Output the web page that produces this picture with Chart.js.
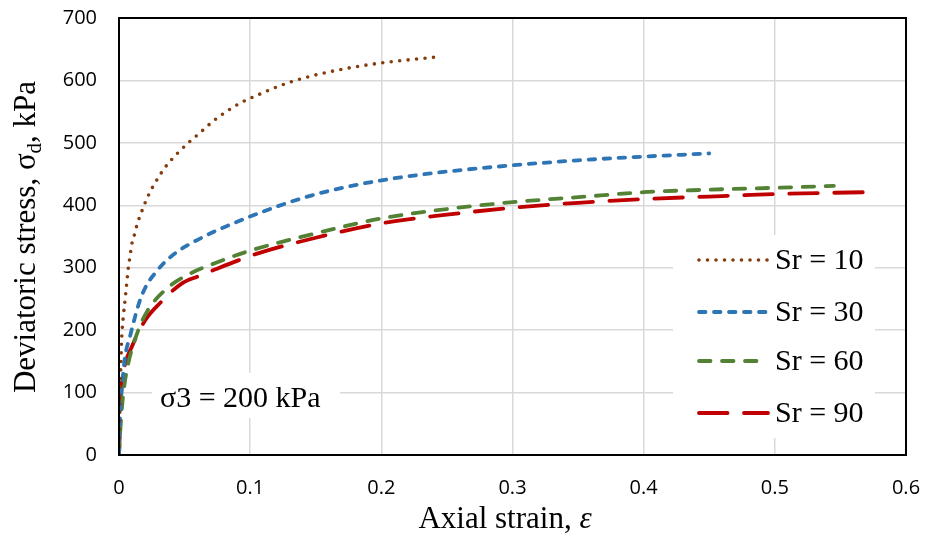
<!DOCTYPE html>
<html>
<head>
<meta charset="utf-8">
<script src="https://cdn.jsdelivr.net/npm/chart.js@4.4.1/dist/chart.umd.min.js"></script>
<style>
    html, body { margin: 0; padding: 0; background: #fff; }
    #wrap { width: 927px; height: 539px; position: relative; }
</style>
</head>
<body>
<div id="wrap"><canvas id="stressChart"></canvas></div>
<script>
// axial strain / deviatoric stress (kPa)
const strainSr10 = [0, 0.0005, 0.001, 0.002, 0.0033, 0.0046, 0.0059, 0.0071, 0.0084, 0.0097, 0.0122, 0.0135, 0.0173, 0.0224, 0.0287, 0.0356, 0.044, 0.0528, 0.0622, 0.0719, 0.0818, 0.0927, 0.104, 0.13, 0.163, 0.2, 0.24];
const stressSr10 = [0, 60, 110, 184, 222, 248, 275, 300, 318, 337, 356, 367, 390, 416, 440, 462, 482, 500, 517, 535, 550, 564, 575, 597, 615, 628, 637];

const strainSr30 = [0, 0.001, 0.0025, 0.0046, 0.0084, 0.0122, 0.016, 0.021, 0.027, 0.034, 0.044, 0.054, 0.064, 0.0757, 0.087, 0.0986, 0.11, 0.13, 0.16, 0.2, 0.25, 0.3, 0.35, 0.4, 0.45];
const stressSr30 = [0, 70, 115, 157, 190, 221, 248, 272, 290, 307, 325, 338, 349, 361, 371, 381, 390, 405, 423, 440, 454, 464, 472, 478, 483];

const strainSr60 = [0, 0.001, 0.002, 0.004, 0.0071, 0.0147, 0.022, 0.035, 0.05, 0.074, 0.098, 0.15, 0.2, 0.25, 0.3, 0.35, 0.4, 0.45, 0.5, 0.545];
const stressSr60 = [0, 40, 70, 110, 147, 200, 232, 264, 286, 308, 326, 355, 379, 394, 405, 413, 421, 425, 428, 431];

const strainSr90 = [0, 0.0008, 0.002, 0.004, 0.0097, 0.02, 0.0325, 0.048, 0.06, 0.073, 0.09, 0.106, 0.15, 0.2, 0.25, 0.3, 0.35, 0.4, 0.45, 0.5, 0.569];
const stressSr90 = [0, 50, 110, 140, 173, 216, 246, 275, 286, 297, 311, 323, 348, 371, 385, 396, 404, 410, 414, 418, 421];

const seriesLabels = ['Sr = 10', 'Sr = 30', 'Sr = 60', 'Sr = 90'];
const xTicks = [0, 0.1, 0.2, 0.3, 0.4, 0.5, 0.6];
const yTicks = [0, 100, 200, 300, 400, 500, 600, 700];
const noteText = 'σ3 = 200 kPa';

const serif = '"Liberation Serif", "Times New Roman", serif';
const sans = '"Open Sans", "Liberation Sans", sans-serif';

function pairs(xs, ys) {
    return xs.map((x, i) => ({ x, y: ys[i] }));
}

function line(label, points, color, dash, width) {
    return {
        label,
        data: points,
        borderColor: color,
        backgroundColor: color,
        borderWidth: width,
        borderDash: dash,
        borderCapStyle: 'round',
        pointRadius: 0,
        fill: false,
        cubicInterpolationMode: 'monotone',
    };
}

// plot frame, titles, note and boxed legend
const decor = {
    id: 'decor',
    afterDatasetsDraw(chart) {
        const { ctx, chartArea: a } = chart;
        ctx.save();

        // note
        ctx.fillStyle = '#fff';
        ctx.fillRect(152, 373, 188, 45);
        ctx.fillStyle = '#000';
        ctx.font = '30px ' + serif;
        ctx.textBaseline = 'alphabetic';
        ctx.textAlign = 'left';
        ctx.fillText(noteText, 160, 407);

        // legend
        ctx.fillStyle = '#fff';
        ctx.fillRect(673, 235, 202, 203);
        const rows = [260, 312, 361, 413];
        chart.data.datasets.forEach((ds, i) => {
            const y = rows[i];
            ctx.beginPath();
            ctx.strokeStyle = ds.borderColor;
            ctx.lineWidth = ds.borderWidth;
            ctx.lineCap = 'round';
            ctx.setLineDash(ds.borderDash);
            ctx.moveTo(699, y);
            ctx.lineTo(768, y);
            ctx.stroke();
            ctx.setLineDash([]);
            ctx.fillStyle = '#000';
            ctx.font = '30px ' + serif;
            ctx.textBaseline = 'middle';
            ctx.fillText(ds.label, 775, y + 1);
        });

        // frame
        ctx.strokeStyle = '#000';
        ctx.lineWidth = 2;
        ctx.strokeRect(a.left, a.top, a.right - a.left, a.bottom - a.top);

        // x title
        ctx.fillStyle = '#000';
        ctx.textBaseline = 'alphabetic';
        const xa = 'Axial strain, ';
        ctx.font = '31px ' + serif;
        const w1 = ctx.measureText(xa).width;
        ctx.font = 'italic 31px ' + serif;
        const w2 = ctx.measureText('ε').width;
        const x0 = 505 - (w1 + w2) / 2;
        ctx.font = '31px ' + serif;
        ctx.fillText(xa, x0, 528);
        ctx.font = 'italic 31px ' + serif;
        ctx.fillText('ε', x0 + w1, 528);

        // y title with subscript
        ctx.translate(35, 237);
        ctx.rotate(-Math.PI / 2);
        const partA = 'Deviatoric stress, σ';
        const partB = 'd';
        const partC = ', kPa';
        ctx.font = '31px ' + serif;
        const wa = ctx.measureText(partA).width;
        const wc = ctx.measureText(partC).width;
        ctx.font = '21px ' + serif;
        const wb = ctx.measureText(partB).width;
        const px = -(wa + wb + wc) / 2;
        ctx.font = '31px ' + serif;
        ctx.fillText(partA, px, 0);
        ctx.font = '21px ' + serif;
        ctx.fillText(partB, px + wa, 6);
        ctx.font = '31px ' + serif;
        ctx.fillText(partC, px + wa + wb, 0);

        ctx.restore();
    },
};

new Chart(document.getElementById('stressChart'), {
    type: 'line',
    data: {
        datasets: [
            line(seriesLabels[0], pairs(strainSr10, stressSr10), '#843C0C', [0, 8.5], 3.6),
            line(seriesLabels[1], pairs(strainSr30, stressSr30), '#2E75B6', [6.5, 8.5], 3.8),
            line(seriesLabels[2], pairs(strainSr60, stressSr60), '#548235', [11.5, 11.5], 3.8),
            line(seriesLabels[3], pairs(strainSr90, stressSr90), '#C00000', [28.5, 16.5], 3.8),
        ],
    },
    options: {
        responsive: true,
        maintainAspectRatio: false,
        animation: false,
        layout: { padding: { top: 18, right: 21, left: 0, bottom: 0 } },
        plugins: { legend: { display: false }, tooltip: { enabled: false } },
        scales: {
            x: {
                type: 'linear',
                min: xTicks[0],
                max: xTicks[xTicks.length - 1],
                afterBuildTicks: (s) => { s.ticks = xTicks.map((v) => ({ value: v })); },
                afterFit: (s) => {
                    s.height = 84;
                    s.paddingLeft = 0;
                    s.paddingRight = 0;
                },
                ticks: {
                    padding: 21,
                    color: '#000',
                    font: { family: sans, size: 20 },
                    callback: (v) => String(Math.round(v * 10) / 10),
                    maxRotation: 0,
                },
                grid: { color: '#d9d9d9', lineWidth: 1.5, drawTicks: false },
                border: { display: false },
            },
            y: {
                min: yTicks[0],
                max: yTicks[yTicks.length - 1],
                afterBuildTicks: (s) => { s.ticks = yTicks.map((v) => ({ value: v })); },
                afterFit: (s) => {
                    s.width = 119;
                    s.paddingTop = 0;
                    s.paddingBottom = 0;
                },
                ticks: {
                    padding: 22,
                    color: '#000',
                    font: { family: sans, size: 20 },
                },
                grid: { color: '#d9d9d9', lineWidth: 1.5, drawTicks: false },
                border: { display: false },
            },
        },
    },
    plugins: [decor],
});
</script>
</body>
</html>
